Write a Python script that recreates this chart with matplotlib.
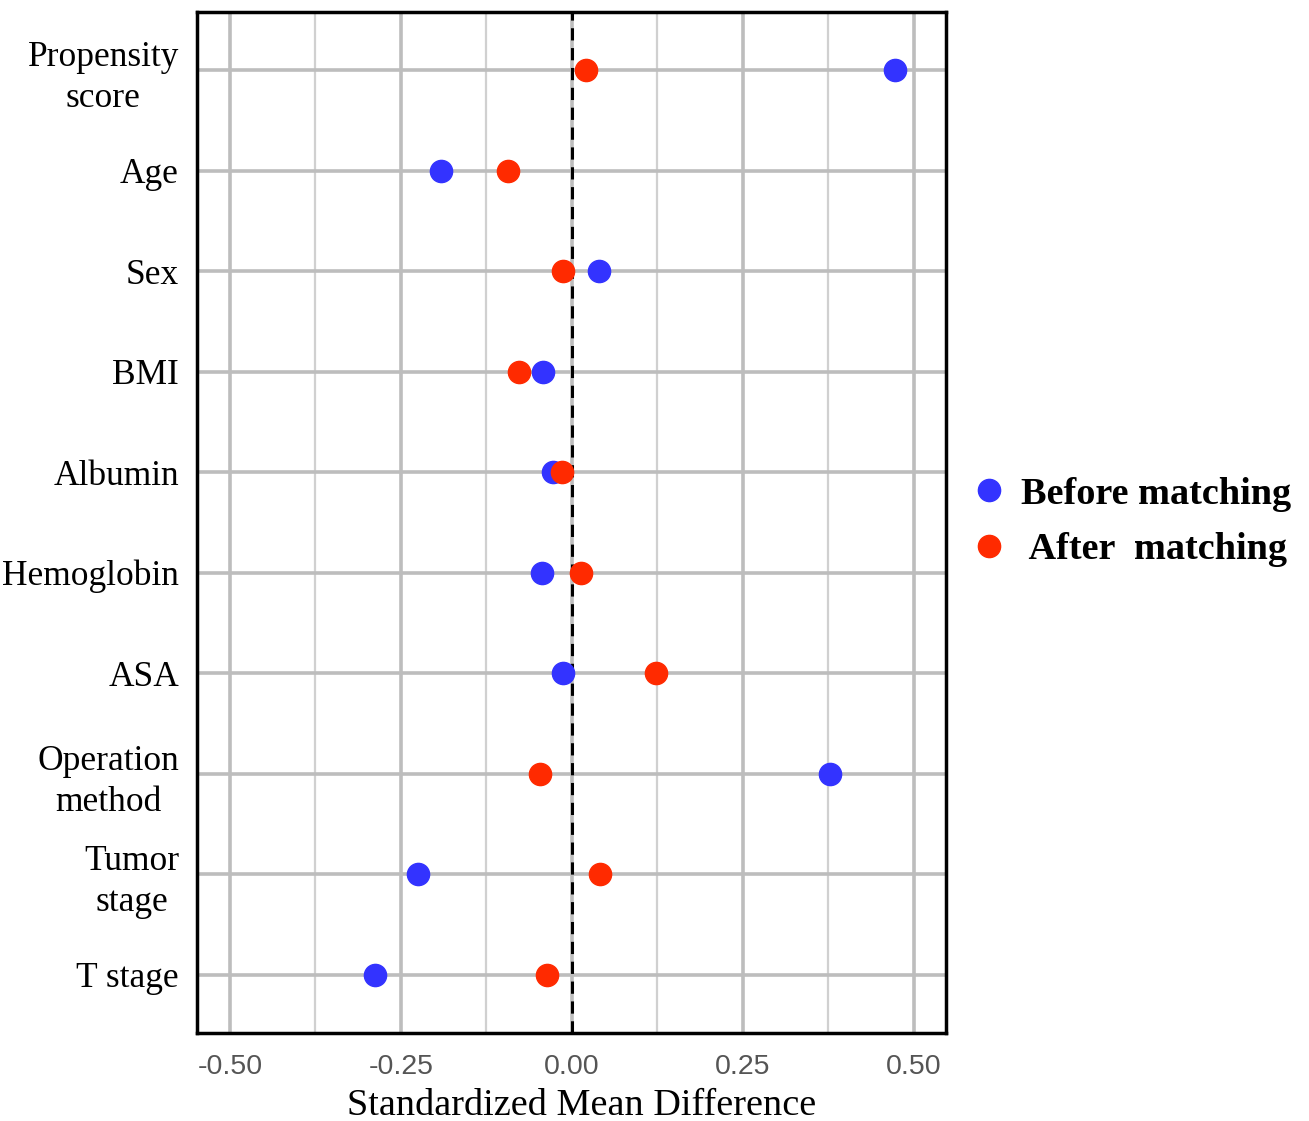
import matplotlib
matplotlib.use("Agg")
import matplotlib.pyplot as plt
import numpy as np
from matplotlib.ticker import MultipleLocator

categories = ["Propensity\nscore", "Age", "Sex", "BMI", "Albumin", "Hemoglobin",
              "ASA", "Operation\nmethod", "Tumor\nstage", "T stage"]
before = [0.472, -0.192, 0.039, -0.042, -0.028, -0.044, -0.013, 0.377, -0.225, -0.288]
after = [0.020, -0.094, -0.013, -0.077, -0.015, 0.013, 0.123, -0.047, 0.041, -0.037]
xticks = [-0.50, -0.25, 0.00, 0.25, 0.50]
xticklabels = ["-0.50", "-0.25", "0.00", "0.25", "0.50"]

serif = "Liberation Serif"
fig = plt.figure(figsize=(13.09, 11.21), dpi=100)
ax = fig.add_axes([197/1309, 1-1033/1121, (946-197)/1309, (1033-12)/1121])

n = len(categories)
ypos = np.arange(n)[::-1]

ax.set_xlim(-0.548, 0.547)
ax.set_ylim(-0.58, n - 1 + 0.58)
ax.set_xticks(xticks)
ax.set_xticklabels(xticklabels, fontsize=20.5, color="#555555", family="Liberation Sans")
ax.xaxis.set_minor_locator(MultipleLocator(0.125))
ax.set_yticks(ypos)
ax.set_yticklabels(categories, fontsize=25.5, family=serif, multialignment="center",
                   linespacing=1.32)
ax.tick_params(axis="both", which="both", length=0)
ax.tick_params(axis="x", pad=15)
ax.tick_params(axis="y", pad=13)

ax.grid(True, which="major", axis="both", color="#bdbdbd", lw=2.6, zorder=0)
ax.grid(True, which="minor", axis="x", color="#d0d0d0", lw=1.6, zorder=0)
ax.set_axisbelow(True)

ax.axvline(0, color="black", lw=2.2, ls=(0, (4, 2.5)), zorder=2)

ax.plot(before, ypos, "o", color="#3333ff", ms=16, ls="none", zorder=3, label="Before matching")
ax.plot(after, ypos, "o", color="#ff2a00", ms=16, ls="none", zorder=4, label=" After  matching")

for s in ax.spines.values():
    s.set_linewidth(2.5)
    s.set_color("black")

fig.text(582/1309, 1-1115/1121, "Standardized Mean Difference", fontsize=27.5,
         family=serif, ha="center", va="baseline")

leg = fig.legend(loc="center left", bbox_to_anchor=(932/1309, 1-522/1121), frameon=False,
                 prop={"family": serif, "weight": "bold", "size": 27.5},
                 handletextpad=0.23, labelspacing=0.54, handlelength=1.2)

fig.savefig("out.png", dpi=100)
